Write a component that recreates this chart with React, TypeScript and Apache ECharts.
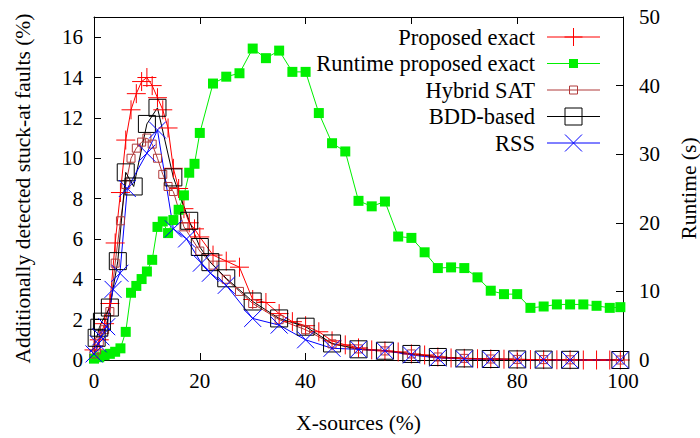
import React, { useEffect, useRef } from "react";
import * as echarts from "echarts";

const FONT = "Liberation Serif, serif";

// X-source percentages and values for each series
const proposedX = [0, 1, 2, 3, 4, 5, 6, 7, 8, 9, 10, 11, 12, 13, 14, 15, 16, 17, 18, 19, 20, 22.5, 25, 27.5, 30, 32.5, 35, 37.5, 40, 42.5, 45, 47.5, 50, 52.5, 55, 57.5, 60, 62.5, 65, 67.5, 70, 72.5, 75, 77.5, 80, 82.5, 85, 87.5, 90, 92.5, 95, 97.5, 99.5];
const proposedY = [0.5, 1.0, 1.8, 2.8, 5.8, 8.3, 10.9, 12.4, 13.2, 13.8, 14.0, 13.6, 13.0, 12.4, 11.5, 9.5, 8.5, 7.5, 6.8, 6.5, 6.1, 5.2, 4.9, 4.6, 3.0, 2.85, 2.3, 1.9, 1.7, 1.4, 0.95, 0.75, 0.6, 0.5, 0.45, 0.4, 0.3, 0.25, 0.15, 0.1, 0.08, 0.06, 0.05, 0.04, 0.03, 0.02, 0.02, 0.01, 0.01, 0, 0, 0, 0];

const runtimeX = [0, 1, 2, 3, 4, 5, 6, 7, 8, 9, 10, 11, 12, 13, 14, 15, 16, 17, 18, 19, 20, 22.5, 25, 27.5, 30, 32.5, 35, 37.5, 40, 42.5, 45, 47.5, 50, 52.5, 55, 57.5, 60, 62.5, 65, 67.5, 70, 72.5, 75, 77.5, 80, 82.5, 85, 87.5, 90, 92.5, 95, 97.5, 99.5];
const runtimeY = [0.2, 0.4, 0.7, 0.9, 1.2, 1.7, 4.1, 9.8, 10.8, 11.8, 12.9, 14.6, 19.4, 20.2, 18.5, 20.4, 21.9, 24.0, 27.3, 28.6, 33.1, 40.3, 41.3, 41.8, 45.4, 44.0, 45.1, 42.0, 42.0, 36.0, 31.6, 30.4, 23.2, 22.4, 23.1, 18.0, 17.8, 15.7, 13.4, 13.5, 13.4, 12.05, 10.1, 9.6, 9.6, 7.6, 7.8, 8.1, 8.1, 8.1, 7.9, 7.6, 7.7];

const hybridX = [0, 0.5, 1, 2, 3, 4, 5, 6, 7, 8, 9, 10, 11, 12, 13, 14, 15, 17, 20, 22.5, 25, 27.5, 30, 35, 40, 45, 50, 55, 60, 65, 70, 75, 80, 85, 90, 99.5];
const hybridY = [0.3, 0.5, 0.9, 1.5, 2.4, 4.8, 6.9, 8.7, 10.0, 10.5, 10.8, 11.0, 10.7, 10.0, 9.2, 8.6, 8.35, 6.6, 5.4, 4.7, 4.0, 3.4, 2.8, 2.0, 1.5, 0.8, 0.55, 0.45, 0.3, 0.15, 0.08, 0.05, 0.03, 0.02, 0.01, 0];

const bddX = [0.5, 1, 1.5, 3, 4.5, 6, 7.5, 10, 12, 15, 18, 20, 22, 25, 30, 35, 40, 45, 50, 55, 60, 65, 70, 75, 80, 85, 90, 99.5];
const bddY = [1.1, 1.6, 1.9, 2.6, 4.9, 9.3, 8.6, 11.7, 12.5, 9.05, 6.9, 5.6, 4.85, 4.05, 2.9, 2.06, 1.65, 0.82, 0.53, 0.46, 0.3, 0.15, 0.08, 0.05, 0.03, 0.02, 0.01, 0];

const rssX = [0, 0.8, 1.3, 2.4, 3.6, 4.9, 6.3, 10, 12, 15, 17.5, 20.3, 22, 25, 30, 35, 40, 45, 50, 55, 60, 65, 70, 75, 80, 85, 90, 99.5];
const rssY = [0.3, 0.8, 1.15, 1.65, 3.5, 4.3, 8.5, 10.25, 11.4, 6.5, 6.0, 4.8, 4.3, 3.7, 2.06, 1.73, 1.0, 0.58, 0.53, 0.46, 0.25, 0.1, 0.05, 0.03, 0.02, 0.01, 0, 0];

const xTicks = { min: 0, max: 100, interval: 20 };
const leftTicks = { min: 0, max: 17, interval: 2 };
const rightTicks = { min: 0, max: 50, interval: 10 };

const legendNames = ["Proposed exact", "Runtime proposed exact", "Hybrid SAT", "BDD-based", "RSS"];

const zip = (xs: number[], ys: number[]) => xs.map((x, i) => [x, ys[i]]);

const PLUS = "path://M0,10L20,10M10,0L10,20";
const CROSS = "path://M0,0L20,20M20,0L0,20";
const SQUARE = "path://M0,0L20,0L20,20L0,20Z";

const RED = "#ff0000";
const GREEN = "#00f000";
const BROWN = "#b03a3a";
const BLACK = "#000000";
const BLUE = "#0000ff";

function lineSeries(name: string, data: number[][], color: string, symbol: string, size: number, filled: boolean, yAxisIndex = 0) {
  return {
    name,
    type: "line",
    data,
    yAxisIndex,
    symbol,
    symbolSize: size,
    showSymbol: true,
    clip: false,
    lineStyle: { color, width: 1 },
    itemStyle: filled
      ? { color, borderWidth: 0 }
      : { color: "rgba(0,0,0,0)", borderColor: color, borderWidth: 1 },
    emphasis: { disabled: true },
    z: 2,
  };
}

export default function App() {
  const ref = useRef<HTMLDivElement>(null);

  useEffect(() => {
    if (!ref.current) return;
    const chart = echarts.init(ref.current, undefined, { renderer: "svg" });

    const legendColors = [RED, GREEN, BROWN, BLACK, BLUE];
    const rowY = [37, 63.5, 90, 116.5, 143];
    const textRight = 535;
    const lineX1 = 547;
    const lineX2 = 600;
    const mx = 573.5;
    const legendEls: any[] = [];
    legendNames.forEach((name, i) => {
      const y = rowY[i];
      const c = legendColors[i];
      legendEls.push({
        type: "text",
        x: textRight,
        y,
        style: { text: name, fill: "#000", fontSize: 22.5, fontFamily: FONT, textAlign: "right", textVerticalAlign: "middle" },
      });
      legendEls.push({ type: "line", shape: { x1: lineX1, y1: y, x2: lineX2, y2: y }, style: { stroke: c, lineWidth: 1 } });
      if (i === 0) {
        legendEls.push({ type: "line", shape: { x1: mx - 9, y1: y, x2: mx + 9, y2: y }, style: { stroke: c, lineWidth: 1 } });
        legendEls.push({ type: "line", shape: { x1: mx, y1: y - 9, x2: mx, y2: y + 9 }, style: { stroke: c, lineWidth: 1 } });
      } else if (i === 1) {
        legendEls.push({ type: "rect", shape: { x: mx - 4.5, y: y - 4.5, width: 9, height: 9 }, style: { fill: c } });
      } else if (i === 2) {
        legendEls.push({ type: "rect", shape: { x: mx - 4, y: y - 4, width: 8, height: 8 }, style: { fill: "none", stroke: c, lineWidth: 1 } });
      } else if (i === 3) {
        legendEls.push({ type: "rect", shape: { x: mx - 8.5, y: y - 8.5, width: 17, height: 17 }, style: { fill: "none", stroke: c, lineWidth: 1 } });
      } else {
        legendEls.push({ type: "line", shape: { x1: mx - 8.5, y1: y - 8.5, x2: mx + 8.5, y2: y + 8.5 }, style: { stroke: c, lineWidth: 1 } });
        legendEls.push({ type: "line", shape: { x1: mx + 8.5, y1: y - 8.5, x2: mx - 8.5, y2: y + 8.5 }, style: { stroke: c, lineWidth: 1 } });
      }
    });

    const labelStyle = { color: "#000", fontFamily: FONT, fontSize: 21 };
    const nameStyle = { color: "#000", fontFamily: FONT, fontSize: 21.5 };

    chart.setOption({
      animation: false,
      backgroundColor: "#fff",
      grid: { left: 94, right: 77, top: 17, bottom: 78, containLabel: false, outerBoundsMode: "none" },
      xAxis: [
        {
          type: "value",
          ...xTicks,
          position: "bottom",
          axisLine: { show: true, onZero: false, lineStyle: { color: "#000", width: 1 } },
          axisTick: { show: true, inside: true, length: 7, lineStyle: { color: "#000" } },
          axisLabel: { ...labelStyle, margin: 10 },
          splitLine: { show: false },
          name: "X-sources (%)",
          nameLocation: "middle",
          nameGap: 52,
          nameTextStyle: nameStyle,
        },
        {
          type: "value",
          ...xTicks,
          position: "top",
          axisLine: { show: true, onZero: false, lineStyle: { color: "#000", width: 1 } },
          axisTick: { show: true, inside: true, length: 7, lineStyle: { color: "#000" } },
          axisLabel: { show: false },
          splitLine: { show: false },
        },
      ],
      yAxis: [
        {
          type: "value",
          ...leftTicks,
          position: "left",
          axisLine: { show: true, onZero: false, lineStyle: { color: "#000", width: 1 } },
          axisTick: { show: true, inside: true, length: 7, lineStyle: { color: "#000" } },
          axisLabel: { ...labelStyle, margin: 11, showMaxLabel: false },
          splitLine: { show: false },
          name: "Additionally detected stuck-at faults (%)",
          nameLocation: "middle",
          nameGap: 60,
          nameTextStyle: nameStyle,
        },
        {
          type: "value",
          ...rightTicks,
          position: "right",
          axisLine: { show: true, onZero: false, lineStyle: { color: "#000", width: 1 } },
          axisTick: { show: true, inside: true, length: 7, lineStyle: { color: "#000" } },
          axisLabel: { ...labelStyle, margin: 16 },
          splitLine: { show: false },
          name: "Runtime (s)",
          nameLocation: "middle",
          nameGap: 55,
          nameRotate: 90,
          nameTextStyle: nameStyle,
        },
      ],
      graphic: legendEls,
      series: [
        lineSeries("Proposed exact", zip(proposedX, proposedY), RED, PLUS, 19, false),
        lineSeries("Runtime proposed exact", zip(runtimeX, runtimeY), GREEN, "rect", 10, true, 1),
        lineSeries("Hybrid SAT", zip(hybridX, hybridY), BROWN, SQUARE, 8, false),
        lineSeries("BDD-based", zip(bddX, bddY), BLACK, SQUARE, 17, false),
        lineSeries("RSS", zip(rssX, rssY), BLUE, CROSS, 17, false),
      ],
    });

    return () => chart.dispose();
  }, []);

  return (
    <div
      ref={ref}
      style={{ position: "fixed", left: 0, top: 0, width: 700, height: 438, background: "#fff" }}
    />
  );
}
